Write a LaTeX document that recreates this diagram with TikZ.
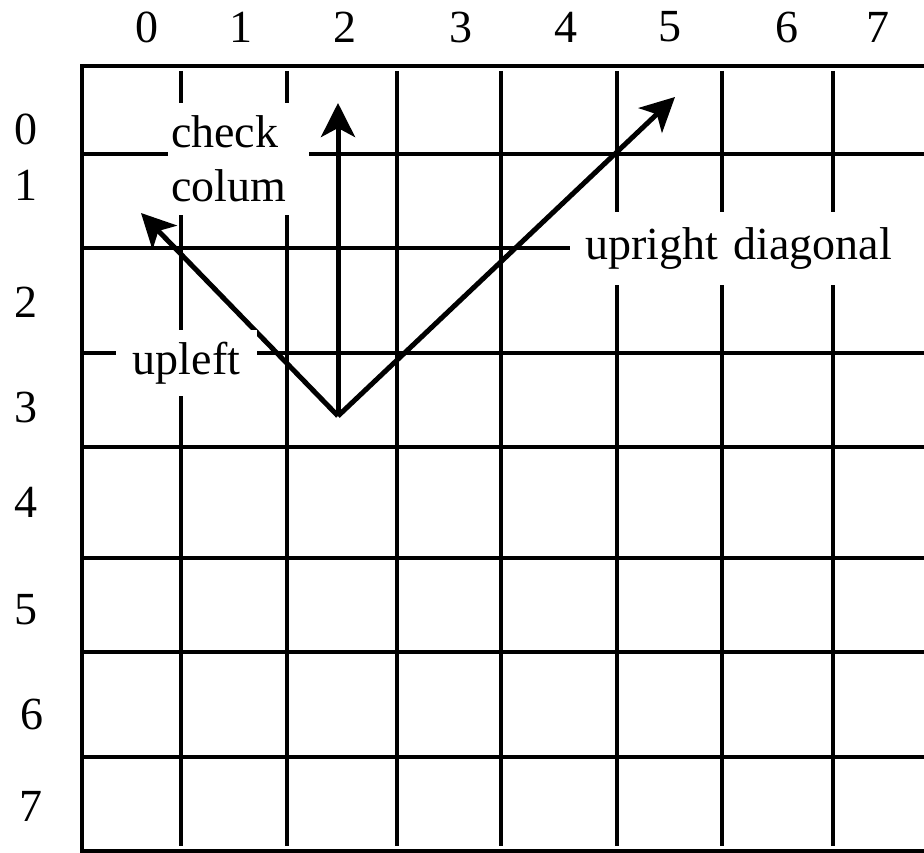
\documentclass[tikz,border=0pt]{standalone}
\usepackage{fontspec}
\setmainfont{Liberation Serif}
\usepackage{tikz}
\usetikzlibrary{arrows.meta, positioning}

\begin{document}
\begin{tikzpicture}[
			x=1pt, y=-1pt,
			font=\fontsize{46}{54}\selectfont,
			frame/.style={line width=4.5pt},
			gridline/.style={line width=4pt},
			idx/.style={inner sep=0pt},
			mask/.style={fill=white, inner ysep=0pt},
			arrow/.style={-{Stealth[length=34pt, width=34pt, inset=9pt]}, line width=5pt}
		]
		
		\useasboundingbox (0,0) rectangle (924,853);
		\clip (0,0) rectangle (924,853);
		
		% Column indices
		\node[idx] (c0) at (147,27) {0};
		\node[idx] (c1) at (241,27) {1};
		\node[idx] (c2) at (345,27) {2};
		\node[idx] (c3) at (461,27) {3};
		\node[idx] (c4) at (566,27) {4};
		\node[idx] (c5) at (670,27) {5};
		\node[idx] (c6) at (787,27) {6};
		\node[idx] (c7) at (878,27) {7};
		
		% Row indices
		\node[idx] (r0) at (26,129) {0};
		\node[idx] (r1) at (26,185) {1};
		\node[idx] (r2) at (26,302) {2};
		\node[idx] (r3) at (26,407) {3};
		\node[idx] (r4) at (26,502) {4};
		\node[idx] (r5) at (26,610) {5};
		\node[idx] (r6) at (32,714) {6};
		\node[idx] (r7) at (31,806) {7};
		
		% Board frame
		\draw[frame] (924,66) -- (82,66) -- (82,851) -- (924,851);
		
		% Rows
		\draw[gridline] (82,154) -- (924,154);
		\draw[gridline] (82,248) -- (924,248);
		\draw[gridline] (82,353) -- (924,353);
		\draw[gridline] (82,447) -- (924,447);
		\draw[gridline] (82,558) -- (924,558);
		\draw[gridline] (82,652) -- (924,652);
		\draw[gridline] (82,757) -- (924,757);
		
		% Columns
		\draw[gridline] (181,71) -- (181,846);
		\draw[gridline] (287,71) -- (287,846);
		\draw[gridline] (397,71) -- (397,846);
		\draw[gridline] (501,71) -- (501,846);
		\draw[gridline] (617,71) -- (617,846);
		\draw[gridline] (722,71) -- (722,846);
		\draw[gridline] (833,71) -- (833,846);
		
		% Queen and the three checks
		\coordinate (queen) at (338,416);
		\coordinate (tipcol) at (338,103);
		\coordinate (tipleft) at (141,213);
		\coordinate (tipright) at (675,97);
		\draw[arrow] (queen) -- (tipcol);
		\draw[arrow] (queen) -- (tipleft);
		\draw[arrow] (queen) -- (tipright);
		
		% Labels
		\node[mask, inner xsep=3pt, text width=135pt, align=left, minimum height=112pt] (checkcol) at (238.5,159) {check\\colum};
		\node[mask, inner xsep=17pt, minimum height=66pt] (upleft) at (186.5,363) {upleft};
		\node[mask, anchor=west, inner xsep=15pt, text width=339pt, align=left, minimum height=73pt] (upright) at (570,248.5) {upright diagonal};
		
		\end{tikzpicture}
\end{document}
